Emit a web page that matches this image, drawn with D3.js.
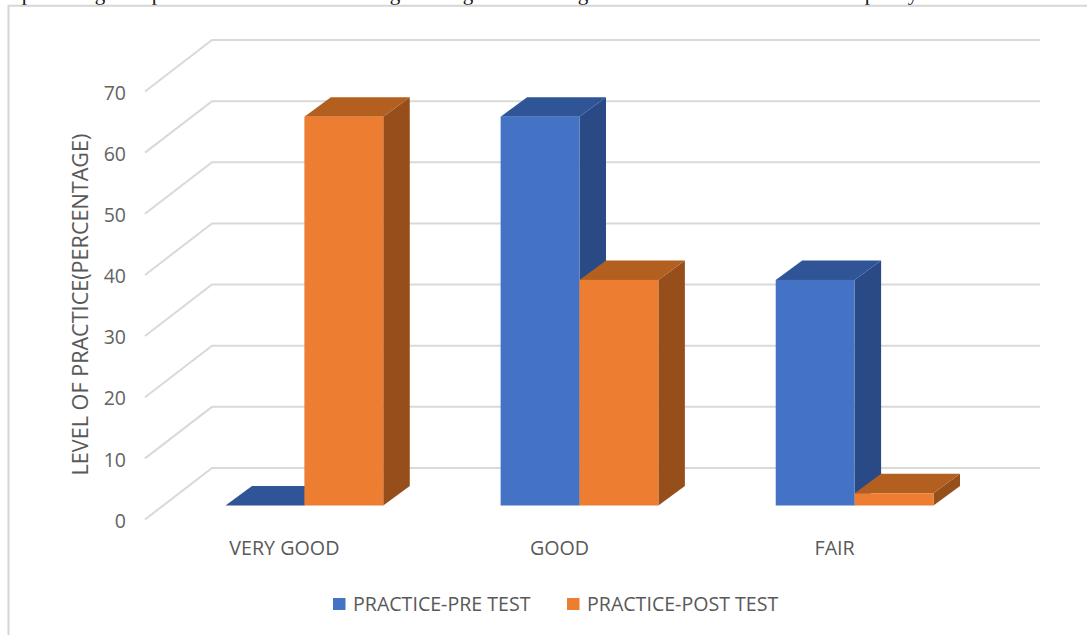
<!DOCTYPE html>
<html><head><meta charset="utf-8">
<script src="https://cdn.jsdelivr.net/npm/d3@7/dist/d3.min.js"></script>
<style>html,body{margin:0;padding:0;background:#fff}svg{display:block}text{font-family:"Open Sans",sans-serif;fill:#595959}</style>
</head><body><svg id="c" width="1087" height="635"></svg>
<script>
const categories = ["VERY GOOD","GOOD","FAIR"];
const seriesNames = ["PRACTICE-PRE TEST","PRACTICE-POST TEST"];
const preTest = [0,63.6,36.9];
const postTest = [63.6,36.9,2];
const yTicks = [0,10,20,30,40,50,60,70];
const axisTitle = "LEVEL OF PRACTICE(PERCENTAGE)";
const clippedGlyphs = ["p","g","p","g","g","g","p","y"];
const clippedGlyphX = [27,100,157,395,468,583,870,913];
const fronts = ["#4472C4","#ED7D31"], tops = ["#2F5597","#B35F20"], sides = ["#294A85","#964F1A"];

const svg = d3.select("#c");
const y = d3.scaleLinear().domain([0,70]).range([468,40]);
const x0 = d3.scaleBand().domain(categories).range([225.5,933.5]).paddingInner(0.4265).paddingOuter(0);
const x1 = d3.scaleBand().domain(seriesNames).range([0,x0.bandwidth()]);

// cut-off line of the page text above the chart
svg.append("clipPath").attr("id","topclip").append("rect").attr("width",1087).attr("height",5);
svg.append("g").attr("clip-path","url(#topclip)").selectAll("text").data(clippedGlyphs).join("text")
  .attr("x",(d,i)=>clippedGlyphX[i]).attr("y",0).attr("text-anchor","middle")
  .style("font-family","'Liberation Serif',serif").style("font-size","21px").style("fill","#111").text(d=>d);

// frame
svg.append("path").attr("d","M8.5,635V5.8H1087").attr("fill","none").attr("stroke","#d6d6d6").attr("stroke-width",2);

// gridlines: back wall and side wall
const wallDx = 67, wallDy = 51.5, backX = 212, rightX = 1040;
const grid = svg.append("g").attr("fill","none").attr("stroke","#d9d9d9").attr("stroke-width",2);
grid.selectAll("path").data(yTicks).join("path")
  .attr("d",d=>`M${backX-wallDx},${y(d)+wallDy}L${backX},${y(d)}H${rightX}`);

// y axis
const axG = svg.append("g").attr("transform",`translate(131,${wallDy+1.5})`)
  .call(d3.axisLeft(y).tickValues(yTicks).tickSize(0).tickPadding(5));
axG.select(".domain").remove();
axG.selectAll("text").style("font-family","'Open Sans',sans-serif").style("font-size","19.5px").style("fill","#636363");

// bars
const baseY = 505.5, dx = 26.5, dy = 19.5, baseOffset = baseY - y(0);
const rows = [];
categories.forEach((c,i)=>{ [preTest,postTest].forEach((s,k)=>rows.push({c,k,v:s[i]})); });
const bars = svg.append("g").selectAll("g").data(rows).join("g");
const pts = a => a.map(p=>p.join(",")).join(" ");
const geo = d => {
  const l = x0(d.c)+x1(seriesNames[d.k]), r = l+x1.bandwidth(), t = y(d.v)+baseOffset;
  return {l,r,t};
};
bars.append("polygon").attr("fill",d=>sides[d.k]).attr("points",d=>{const g=geo(d);
  return pts([[g.r,g.t],[g.r+dx,g.t-dy],[g.r+dx,baseY-dy],[g.r,baseY]]);});
bars.append("polygon").attr("fill",d=>tops[d.k]).attr("points",d=>{const g=geo(d);
  return pts([[g.l,g.t],[g.l+dx,g.t-dy],[g.r+dx,g.t-dy],[g.r,g.t]]);});
bars.append("rect").attr("fill",d=>fronts[d.k])
  .attr("x",d=>geo(d).l).attr("y",d=>geo(d).t).attr("width",x1.bandwidth()).attr("height",d=>baseY-geo(d).t);

// category labels
svg.append("g").selectAll("text").data(categories).join("text")
  .attr("x",d=>x0(d)+x0.bandwidth()/2-20).attr("y",555).attr("text-anchor","middle")
  .style("font-size","19.7px").text(d=>d);

// axis title
svg.append("text").attr("transform","translate(88,304.5) rotate(-90)").attr("text-anchor","middle")
  .style("font-size","21.6px").text(axisTitle);

// legend
const lx = d3.scaleOrdinal().domain(seriesNames).range([333,567]);
const leg = svg.append("g").selectAll("g").data(seriesNames).join("g").attr("transform",d=>`translate(${lx(d)},598)`);
leg.append("rect").attr("width",12.5).attr("height",12).attr("fill",(d,i)=>fronts[i]);
leg.append("text").attr("x",20).attr("y",12.5).style("font-size","19.6px").text(d=>d);
</script></body></html>
